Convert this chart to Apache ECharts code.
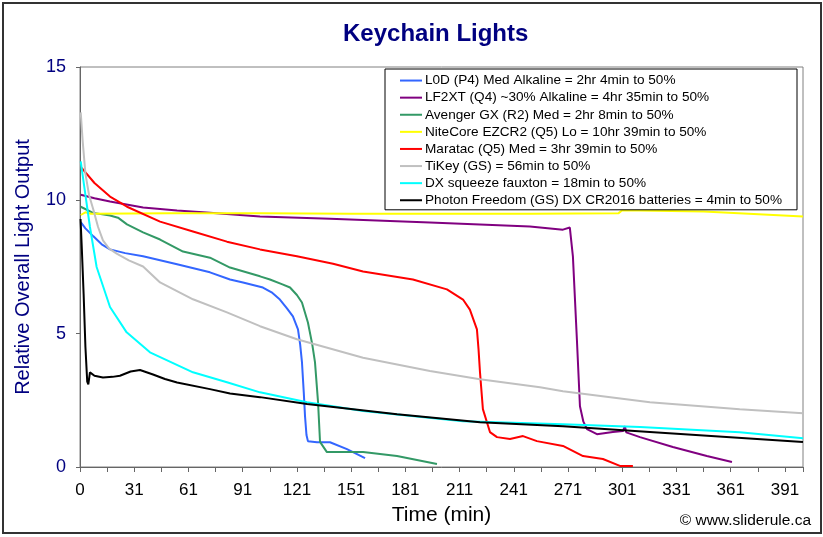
<!DOCTYPE html>
<html>
<head>
<meta charset="utf-8">
<title>Keychain Lights</title>
<script src="https://cdn.jsdelivr.net/npm/echarts@6/dist/echarts.min.js"></script>
<style>
  html, body { margin: 0; padding: 0; background: #fff; }
  #main { width: 823px; height: 537px; }
</style>
</head>
<body>
<div id="main"></div>
<script>
// x = position on the time axis (axis labels read 0, 31, 61, ...), y = relative light output
const seriesNames = [
  'L0D (P4) Med Alkaline = 2hr 4min to 50%',
  'LF2XT (Q4) ~30% Alkaline = 4hr 35min to 50%',
  'Avenger GX (R2) Med = 2hr 8min to 50%',
  'NiteCore EZCR2 (Q5) Lo = 10hr 39min to 50%',
  'Maratac (Q5) Med = 3hr 39min to 50%',
  'TiKey (GS) = 56min to 50%',
  'DX squeeze fauxton = 18min to 50%',
  'Photon Freedom (GS) DX CR2016 batteries = 4min to 50%'
];
const seriesColors = ['#3366FF', '#800080', '#339966', '#FFFF00', '#FF0000', '#C0C0C0', '#00FFFF', '#000000'];

const l0d = [[0.4, 9.18], [3, 8.95], [7.4, 8.65], [12, 8.35], [16.6, 8.16], [25, 8.02], [34.9, 7.9],
  [53.7, 7.6], [71.9, 7.3], [83, 7.03], [90.2, 6.92], [101.2, 6.73], [106, 6.55], [110.6, 6.28],
  [114.5, 5.95], [117.8, 5.65], [120.6, 5.16], [121.8, 4.6], [122.8, 3.93], [123.8, 2.8], [124.5, 1.9],
  [125.3, 1.2], [126.1, 0.97], [131.1, 0.93], [138.3, 0.93], [147.7, 0.67], [157.7, 0.33]];

const lf2xt = [[0.4, 10.21], [8, 10.08], [16.6, 9.96], [34.9, 9.73], [53.7, 9.62], [71.9, 9.53],
  [99.6, 9.39], [138.3, 9.31], [193.6, 9.17], [248.9, 9.02], [267.2, 8.9], [271, 8.98],
  [272.7, 7.9], [274.9, 4.79], [276.6, 2.28], [278.5, 1.7], [280.5, 1.42], [286, 1.23],
  [294.8, 1.31], [300.4, 1.35], [301.5, 1.53], [302.2, 1.3], [309.8, 1.12], [328, 0.75],
  [346.8, 0.41], [360.7, 0.19]];

const avengerGx = [[0.4, 9.76], [7.2, 9.53], [16.6, 9.43], [21, 9.35], [26, 9.1], [34.9, 8.8],
  [44.3, 8.53], [57, 8.08], [71.9, 7.85], [83, 7.48], [99.6, 7.15], [105.1, 7.03], [112, 6.85],
  [116.2, 6.73], [120, 6.45], [122.8, 6.17], [126.1, 5.42], [128.5, 4.6], [130, 3.93],
  [131.7, 2.43], [132.8, 0.94], [136.6, 0.56], [156.6, 0.56], [175.4, 0.41], [197.5, 0.11]];

const niteCore = [[0.4, 9.45], [3, 9.55], [6, 9.5], [50, 9.52], [100, 9.52], [150, 9.5],
  [200, 9.5], [250, 9.5], [298, 9.52], [300, 9.63], [345, 9.58], [370, 9.5], [400, 9.39]];

const maratac = [[0.9, 11.22], [8, 10.65], [16.6, 10.14], [26, 9.76], [44.3, 9.2], [62.5, 8.83],
  [81.3, 8.45], [99.6, 8.16], [120, 7.9], [140, 7.62], [156.6, 7.33], [184.2, 7.03], [203, 6.66],
  [211.9, 6.28], [215.7, 5.9], [219.6, 5.16], [220.5, 4.4], [221.3, 3.55], [222.9, 2.17],
  [226.8, 1.31], [230.7, 1.12], [237.9, 1.05], [245.1, 1.16], [252.8, 0.97], [267.2, 0.79],
  [278.3, 0.41], [289.3, 0.3], [298.7, 0.04], [305.9, 0.04]];

const tiKey = [[0.4, 13.3], [1.5, 12.2], [3, 11], [5, 10.2], [7.4, 9.65], [10, 9.0], [12.7, 8.5],
  [16, 8.2], [20.3, 8.0], [27, 7.75], [34.9, 7.52], [44.3, 6.92], [62.5, 6.29], [81.3, 5.8],
  [99.6, 5.28], [120, 4.79], [156.6, 4.1], [193.6, 3.6], [221.3, 3.29], [254.5, 2.99],
  [267.2, 2.84], [315.3, 2.43], [365, 2.17], [400, 2.02]];

const dxSqueeze = [[0.4, 11.46], [2.8, 10.3], [5.5, 9.0], [9.2, 7.5], [16.6, 6.0], [25.8, 5.05],
  [38.7, 4.3], [62.5, 3.55], [81.3, 3.18], [99.6, 2.8], [125.6, 2.43], [156.6, 2.1],
  [211.9, 1.72], [267.2, 1.6], [309.8, 1.5], [365, 1.3], [400, 1.08]];

const photonFreedom = [[0.3, 9.3], [1, 8.2], [2, 6.5], [3, 4.5], [4, 3.2], [4.6, 3.1], [5.5, 3.55],
  [8, 3.42], [12.7, 3.36], [18, 3.38], [22.1, 3.42], [28, 3.58], [33.2, 3.64], [40.4, 3.47],
  [47, 3.3], [53.7, 3.17], [71.9, 2.92], [83, 2.76], [99.6, 2.62], [125.6, 2.36], [175.4, 1.98],
  [221.3, 1.68], [267.2, 1.53], [315.3, 1.31], [400, 0.94]];

const seriesData = [l0d, lf2xt, avengerGx, niteCore, maratac, tiKey, dxSqueeze, photonFreedom];

const chart = echarts.init(document.getElementById('main'));

const series = seriesData.map((data, i) => ({
  name: seriesNames[i],
  type: 'line',
  data: data,
  showSymbol: false,
  symbol: 'none',
  lineStyle: { width: 2, color: seriesColors[i] },
  itemStyle: { color: seriesColors[i] }
}));

chart.setOption({
  animation: false,
  backgroundColor: '#fff',
  textStyle: { fontFamily: 'Liberation Sans, Arial, sans-serif' },
  title: {
    text: 'Keychain Lights',
    left: 343,
    top: 22,
    padding: 0,
    textStyle: { color: '#000080', fontSize: 24, fontWeight: 'bold', fontFamily: 'Liberation Sans' }
  },
  legend: {
    orient: 'vertical',
    left: 385,
    top: 69,
    padding: [3, 15, 1, 15],
    itemGap: 0,
    itemWidth: 22,
    itemHeight: 2,
    icon: 'rect',
    backgroundColor: '#fff',
    borderColor: '#000',
    borderWidth: 1,
    borderRadius: 0,
    textStyle: { color: '#000', fontSize: 13.6, lineHeight: 17.1, padding: [0, 0, 0, -2] },
    data: seriesNames
  },
  grid: {
    left: 80,
    right: 20,
    top: 67,
    bottom: 70,
    show: true,
    borderColor: '#808080',
    borderWidth: 1,
    backgroundColor: '#fff'
  },
  xAxis: {
    type: 'value',
    min: 0,
    max: 400,
    interval: 15,
    name: 'Time (min)',
    nameLocation: 'middle',
    nameGap: 38,
    nameTextStyle: { color: '#000', fontSize: 21 },
    axisLine: { lineStyle: { color: '#666', width: 1 } },
    axisTick: { length: 5, lineStyle: { color: '#666' } },
    axisLabel: {
      color: '#000',
      fontSize: 17,
      margin: 15,
      hideOverlap: false,
      formatter: v => (v % 30 === 0 ? (v === 0 ? '0' : String(v + 1)) : '')
    },
    splitLine: { show: false }
  },
  yAxis: {
    type: 'value',
    min: 0,
    max: 15,
    interval: 5,
    name: 'Relative Overall Light Output',
    nameLocation: 'middle',
    nameGap: 47,
    nameTextStyle: { color: '#000080', fontSize: 20 },
    axisLine: { show: true, lineStyle: { color: '#666', width: 1 } },
    axisTick: { show: true, length: 4, lineStyle: { color: '#666' } },
    axisLabel: { color: '#000080', fontSize: 18, margin: 14 },
    splitLine: { show: false }
  },
  graphic: [
    {
      type: 'rect',
      shape: { x: 3, y: 3, width: 818, height: 530 },
      style: { fill: 'none', stroke: '#333', lineWidth: 2 },
      silent: true
    },
    {
      type: 'text',
      right: 12,
      top: 513,
      style: { text: '© www.sliderule.ca', fill: '#000', fontSize: 15.5, fontFamily: 'Liberation Sans' },
      silent: true
    }
  ],
  series: series
});
</script>
</body>
</html>
